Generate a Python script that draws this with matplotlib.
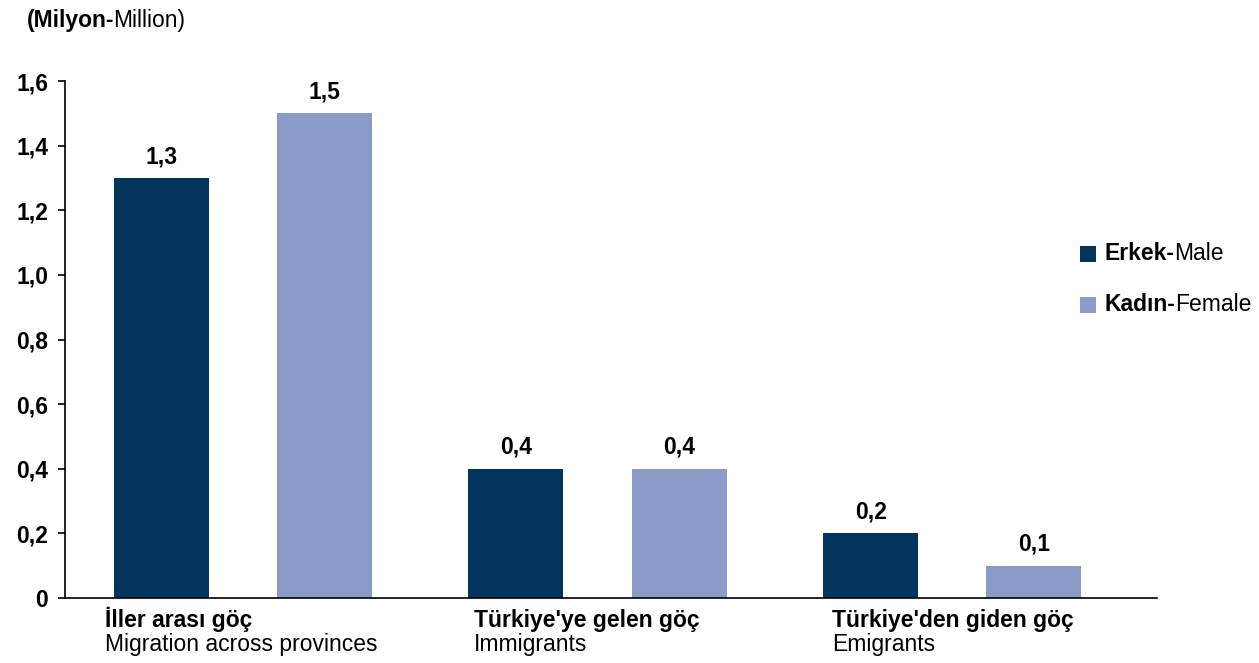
import matplotlib
matplotlib.use('Agg')
import matplotlib.pyplot as plt
import matplotlib.patches as mpatches
import numpy as np

plt.rcParams['font.family'] = ['Liberation Sans', 'DejaVu Sans']

categories_tr = ["İller arası göç", "Türkiye'ye gelen göç", "Türkiye'den giden göç"]
categories_en = ["Migration across provinces", "Immigrants", "Emigrants"]
male = [1.3, 0.4, 0.2]
female = [1.5, 0.4, 0.1]
yticks = [0, 0.2, 0.4, 0.6, 0.8, 1.0, 1.2, 1.4, 1.6]

MALE_C = '#02345e'
FEMALE_C = '#8b9bc8'
FS = 16.5
W, H = 1259, 663

fig = plt.figure(figsize=(12.59, 6.63), dpi=100)
ax = fig.add_axes([65 / W, 1 - 598 / H, 1092 / W, 517 / H])

x = np.arange(len(categories_tr))
w = 0.268
off = 0.23
b1 = ax.bar(x - off, male, w, color=MALE_C)
b2 = ax.bar(x + off, female, w, color=FEMALE_C)

for bars, vals in ((b1, male), (b2, female)):
    for b, v in zip(bars, vals):
        ax.text(b.get_x() + b.get_width() / 2, v + 0.046,
                f'{v:.1f}'.replace('.', ','), ha='center', va='baseline',
                fontsize=FS, fontweight='bold')

ax.set_xlim(-0.501, 2.577)
ax.set_ylim(0, 1.6)
ax.set_yticks(yticks)
ax.set_yticklabels(['0' if t == 0 else f'{t:.1f}'.replace('.', ',') for t in yticks],
                   fontsize=FS, fontweight='bold')
ax.set_xticks([])
ax.tick_params(axis='y', length=5, width=1.2, pad=7)
for s in ('top', 'right'):
    ax.spines[s].set_visible(False)
ax.spines['left'].set_linewidth(1.2)
ax.spines['bottom'].set_linewidth(1.2)

# category labels under the axis (pixel x of label start)
label_x = [105, 474, 832]
for xl, tr, en in zip(label_x, categories_tr, categories_en):
    fig.text(xl / W, 1 - 627 / H, tr, ha='left', va='baseline', fontsize=FS,
             fontweight='bold')
    fig.text(xl / W, 1 - 651 / H, en, ha='left', va='baseline', fontsize=FS)


def two_part(xp, yp, bold, rest):
    t = fig.text(xp / W, 1 - yp / H, bold, fontsize=FS, fontweight='bold',
                 ha='left', va='center')
    fig.canvas.draw()
    bb = t.get_window_extent()
    fig.text((bb.x1 - 1) / W, 1 - yp / H, rest, fontsize=FS, ha='left', va='center')


# unit label
two_part(27, 20, '(Milyon-', 'Million)')

# legend
for yy, col, bold, rest in ((254, MALE_C, 'Erkek-', 'Male'),
                            (305, FEMALE_C, 'Kadın-', 'Female')):
    fig.patches.append(mpatches.Rectangle((1080 / W, 1 - (yy + 8) / H),
                                          16 / W, 16 / H,
                                          transform=fig.transFigure,
                                          facecolor=col, edgecolor='none'))
    two_part(1105, yy, bold, rest)

fig.savefig('out.png', dpi=100)
